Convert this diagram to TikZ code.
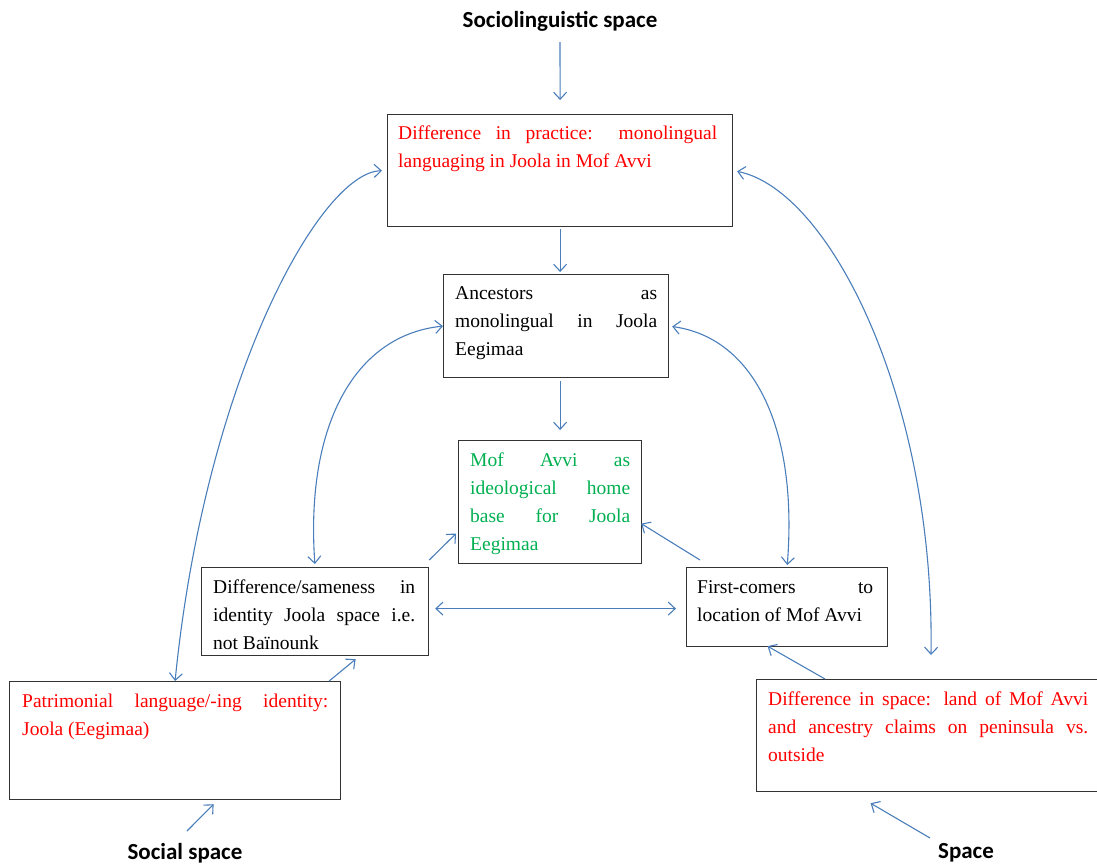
\documentclass[tikz,border=0pt]{standalone}
\usepackage{fontspec}
\setmainfont{Liberation Serif}
\newfontfamily\titlefont{Carlito}
\usetikzlibrary{arrows.meta}
\definecolor{arrowblue}{RGB}{74,126,187}
\definecolor{txtred}{RGB}{255,0,0}
\definecolor{txtgreen}{RGB}{0,176,80}
\hbadness=10000
\hyphenpenalty=10000
\exhyphenpenalty=10000
\tolerance=10000
\begin{document}
\begin{tikzpicture}[x=1pt,y=-1pt,
  box/.style={draw=black!80, line width=1.2pt, inner sep=0pt, anchor=north west},
  txt/.style={inner sep=0pt, anchor=north west, align=justify,
    font=\fontsize{19.5}{28}\selectfont},
  title/.style={inner sep=0pt, anchor=base, font=\titlefont\bfseries\fontsize{23}{28}\selectfont},
  conn/.style={draw=arrowblue, line width=1.1pt, -{Straight Barb[length=7pt,width=13pt]}},
  dconn/.style={draw=arrowblue, line width=1.1pt, {Straight Barb[length=7pt,width=13pt]}-{Straight Barb[length=7pt,width=13pt]}}
]
\useasboundingbox (0,0) rectangle (1097,865);

% titles
\node[title] (t1) at (560,27) {Sociolinguistic space};
\node[title] (t2) at (185,859) {Social space};
\node[title] (t3) at (966,858) {Space};

% boxes
\node[box, minimum width=345pt, minimum height=112pt] (b1) at (387,114) {};
\node[box, minimum width=225pt, minimum height=103pt] (b2) at (443,274) {};
\node[box, minimum width=183pt, minimum height=123pt] (b3) at (458,440) {};
\node[box, minimum width=227pt, minimum height=88pt] (b4) at (201,567) {};
\node[box, minimum width=201pt, minimum height=79pt] (b5) at (686,567) {};
\node[box, minimum width=331pt, minimum height=118pt] (b6) at (9,681) {};
\node[box, minimum width=348pt, minimum height=112pt] (b7) at (756,679) {};

% texts
\node[txt, text width=319pt, text=txtred] (x1) at (398,126)
  {Difference in practice: monolingual\linebreak languaging in Joola in Mof Avvi};
\node[txt, text width=202pt] (x2) at (455,286)
  {Ancestors as\linebreak monolingual in Joola\linebreak Eegimaa};
\node[txt, text width=160pt, text=txtgreen] (x3) at (470,453)
  {Mof Avvi as\linebreak ideological home\linebreak base for Joola\linebreak Eegimaa};
\node[txt, text width=202pt] (x4) at (213,580)
  {Difference/sameness in\linebreak identity Joola space i.e.\linebreak not Baïnounk};
\node[txt, text width=176pt] (x5) at (697,580)
  {First-comers to\linebreak location of Mof Avvi};
\node[txt, text width=306pt, text=txtred] (x6) at (22,694)
  {Patrimonial language/-ing identity:\linebreak Joola (Eegimaa)};
\node[txt, text width=320pt, text=txtred] (x7) at (768,692)
  {Difference in space: land of Mof Avvi\linebreak and ancestry claims on peninsula vs.\linebreak outside};

% vertical arrows
\draw[conn] ([yshift=-15pt]t1.base) -- ([yshift=14pt]b1.north);
\draw[conn] ([yshift=-2pt]b1.south) -- ([yshift=2pt]b1.south |- b2.north);
\draw[conn] ([yshift=-3pt]b1.south |- b2.south) -- ([yshift=10pt]b1.south |- b3.north);

% curved double arrows
\draw[dconn, shorten <=5pt] (b1.west) .. controls (320,172) and (205,380) .. (b6.north);
\draw[dconn, shorten <=4pt, shorten >=24pt] (b1.east) .. controls (830,190) and (935,400) .. (b7.north);
\draw[dconn, shorten >=3pt] (b2.west) .. controls (355,335) and (305,425) .. (b4.north);
\draw[dconn, shorten <=3pt, shorten >=2pt] (b2.east) .. controls (755,338) and (798,430) .. (b5.north);

% straight double arrow
\draw[dconn] ([xshift=6pt,yshift=3pt]b4.east) -- ([xshift=-10pt,yshift=-1.5pt]b5.west);

% single arrows
\draw[conn] ([yshift=7pt]b4.north east) -- ([xshift=-2pt,yshift=-31.5pt]b3.west);
\draw[conn] ([xshift=14pt,yshift=7pt]b5.north west) -- ([xshift=-1pt,yshift=-21.5pt]b3.east);
\draw[conn] ([xshift=-12pt]b6.north east) -- ([xshift=40.5pt,yshift=-3pt]b4.south);
\draw[conn] ([xshift=69pt]b7.north west) -- ([xshift=-19.5pt,yshift=1pt]b5.south);
\draw[conn] ([xshift=2pt,yshift=28pt]t2.base) -- ([xshift=38.5pt,yshift=-4pt]b6.south);
\draw[conn] ([xshift=-36pt,yshift=20pt]t3.base) -- ([xshift=-60pt,yshift=-11pt]b7.south);
\end{tikzpicture}
\end{document}
